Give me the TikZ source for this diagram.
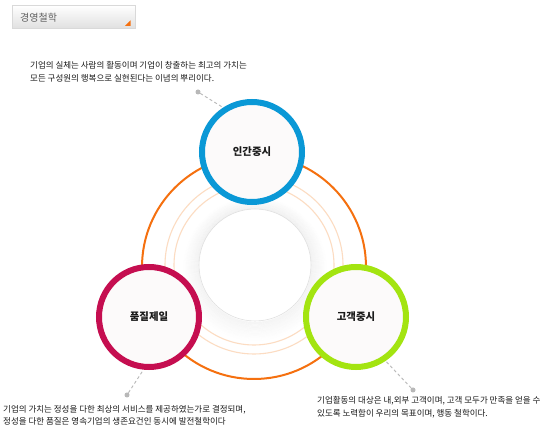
\documentclass[tikz,border=0pt]{standalone}
\usepackage{fontspec}
\setmainfont{Noto Sans CJK KR}
\definecolor{cblue}{HTML}{0A98D6}
\definecolor{cred}{HTML}{C50E50}
\definecolor{clime}{HTML}{A3E410}
\definecolor{corange}{HTML}{F5700F}
\definecolor{clight}{HTML}{FCDCC2}
\definecolor{cfill}{HTML}{FCFAFA}
\definecolor{cdot}{HTML}{B8B8B8}
\definecolor{ctext}{HTML}{1A1A1A}
\tikzset{
  ring/.style={circle, minimum size=100pt, inner sep=0pt, line width=6pt, fill=cfill,
    font=\bfseries\fontsize{10.4}{12}\selectfont, text=ctext},
  dotnode/.style={circle, fill=cdot, minimum size=5pt, inner sep=0pt},
  dashline/.style={draw=cdot, dashed, dash pattern=on 3pt off 2.5pt, line width=0.9pt},
  desc/.style={anchor=west, align=left, inner sep=0pt, text=ctext,
    font=\fontsize{8.5}{12.5}\selectfont},
}
\begin{document}
\begin{tikzpicture}[x=1pt,y=-1pt]
\useasboundingbox (0,0) rectangle (550,438);
\fill[white] (0,0) rectangle (550,438);
% title box
\node[draw=black!15, top color=white, bottom color=black!12, minimum width=123pt, minimum height=23pt,
  inner sep=0pt, anchor=north west] (title) at (12,5) {};
\node[anchor=west, inner sep=0pt, text=black!62, font=\fontsize{10}{12}\selectfont] (titletext) at (20,17.5) {경영철학};
\fill[corange] (130.5,20.5) -- (130.5,26) -- (125,26) -- cycle;
% inner shadowed circle
\foreach \i in {0,...,15}{
  \draw[black, line width=1.1pt, opacity={0.04-0.0025*\i}] (255,266+0.2*\i) circle ({56.5pt+\i pt});
}
\node[circle, fill=white, draw=black!12, line width=0.6pt, minimum size=112pt, inner sep=0pt] (core) at (255,265) {};
% light arcs
\draw[clight, line width=1.1pt] (254,265) circle (80pt);
\draw[clight, line width=1.1pt] (254,265) circle (89pt);
% orange circle
\draw[corange, line width=2pt] (254,267) circle (112pt);
% rings
\node[ring, draw=cblue] (human) at (252,152) {인간중시};
\node[ring, draw=cred] (quality) at (149,317) {품질제일};
\node[ring, draw=clime] (customer) at (356,317) {고객중시};
% dots and connectors
\node[dotnode] (d1) at (198,92) {};
\node[dotnode] (d2) at (127,395) {};
\node[dotnode] (d3) at (413,390) {};
\draw[dashline] (d1) -- (human.123);
\draw[dashline] (d2) -- (quality.264);
\draw[dashline] (d3) -- (customer.304);
% descriptions
\node[desc] (t1) at (30,72) {기업의 실체는 사람의 활동이며 기업이 창출하는 최고의 가치는\\모든 구성원의 행복으로 실현된다는 이념의 뿌리이다.};
\node[desc] (t2) at (3,415.5) {기업의 가치는 정성을 다한 최상의 서비스를 제공하였는가로 결정되며,\\정성을 다한 품질은 영속기업의 생존요건인 동시에 발전철학이다};
\node[desc] (t3) at (317,407.5) {기업활동의 대상은 내,외부 고객이며, 고객 모두가 만족을 얻을 수\\있도록 노력함이 우리의 목표이며, 행동 철학이다.};
\end{tikzpicture}
\end{document}
